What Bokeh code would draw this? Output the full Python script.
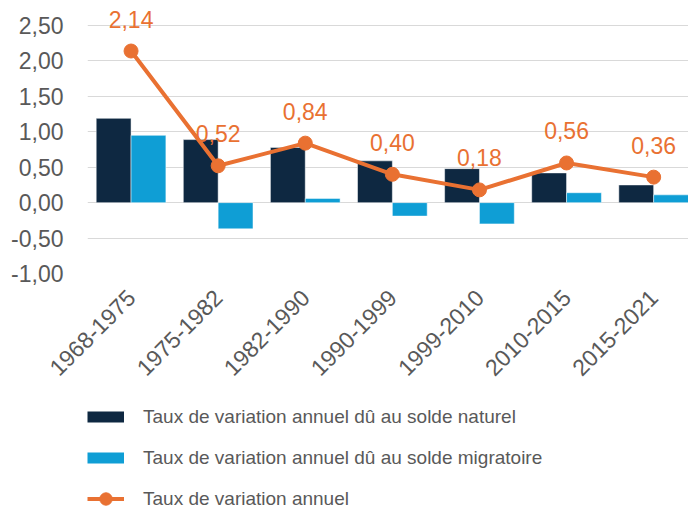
import math
from bokeh.plotting import figure
from bokeh.layouts import column
from bokeh.models import Range1d, FixedTicker, Legend, LegendItem, ColumnDataSource
from bokeh.embed import file_html
from bokeh.resources import INLINE
from bokeh.core.properties import value

periods = ["1968-1975", "1975-1982", "1982-1990", "1990-1999",
           "1999-2010", "2010-2015", "2015-2021"]
naturel = [1.19, 0.89, 0.78, 0.59, 0.48, 0.42, 0.25]
migratoire = [0.95, -0.37, 0.06, -0.19, -0.30, 0.14, 0.11]
annuel = [2.14, 0.52, 0.84, 0.40, 0.18, 0.56, 0.36]
y_ticks = [-1.0, -0.5, 0.0, 0.5, 1.0, 1.5, 2.0, 2.5]
series_names = ["Taux de variation annuel dû au solde naturel",
                "Taux de variation annuel dû au solde migratoire",
                "Taux de variation annuel"]

NAVY = "#0E2841"
BLUE = "#0F9ED5"
ORANGE = "#E97132"
GREY = "#595959"
GRID = "#D9D9D9"
FONT = "Liberation Sans"
NAN = float("nan")


def fr(v):
    return f"{v:.2f}".replace(".", ",")


idx = list(range(len(periods)))
bar_w = 0.4
src = ColumnDataSource(dict(
    xn=[i - bar_w / 2 for i in idx],
    xm=[i + bar_w / 2 for i in idx],
    x=idx,
    nat=naturel,
    mig=migratoire,
    ann=annuel,
    lab=[fr(v) for v in annuel],
))

# ---------------- main chart ----------------
p = figure(width=688, height=395, output_backend="svg", toolbar_location=None,
           x_range=Range1d(-0.5, 6.40), y_range=Range1d(-1.0, 2.712),
           min_border_left=87, min_border_right=0, min_border_top=10,
           min_border_bottom=122)
p.outline_line_color = None
p.background_fill_color = "white"

p.vbar(x="xn", top="nat", width=bar_w, source=src, fill_color=NAVY,
       line_color="white", line_width=0.5)
p.vbar(x="xm", top="mig", width=bar_w, source=src, fill_color=BLUE,
       line_color="white", line_width=0.5)
p.line("x", "ann", source=src, line_color=ORANGE, line_width=4)
p.scatter("x", "ann", source=src, size=14, fill_color=ORANGE, line_color=ORANGE)
p.text("x", "ann", text="lab", source=src, text_color=ORANGE,
       text_font=value(FONT), text_font_size="23px", text_align="center",
       text_baseline="alphabetic", y_offset=-32)

p.xaxis.ticker = FixedTicker(ticks=idx)
p.xaxis.major_label_overrides = {i: s for i, s in enumerate(periods)}
p.xaxis.major_label_orientation = math.pi / 4
p.xaxis.axis_line_color = None
p.xaxis.major_tick_line_color = None
p.xaxis.minor_tick_line_color = None
p.xaxis.major_label_text_font = FONT
p.xaxis.major_label_text_font_size = "23px"
p.xaxis.major_label_text_color = GREY
p.xaxis.major_label_standoff = 14

p.yaxis.ticker = FixedTicker(ticks=y_ticks)
p.yaxis.major_label_overrides = {t: fr(t) for t in y_ticks}
p.yaxis.axis_line_color = None
p.yaxis.major_tick_line_color = None
p.yaxis.minor_tick_line_color = None
p.yaxis.major_label_text_font = FONT
p.yaxis.major_label_text_font_size = "23px"
p.yaxis.major_label_text_color = GREY
p.yaxis.major_label_standoff = 18

p.xgrid.visible = False
p.ygrid.ticker = FixedTicker(ticks=y_ticks)
p.ygrid.grid_line_color = GRID
p.ygrid.grid_line_width = 1

# ---------------- legend strip ----------------
q = figure(width=688, height=119, output_backend="svg", toolbar_location=None,
           x_range=Range1d(0, 1), y_range=Range1d(0, 1),
           x_axis_location=None, y_axis_location=None,
           min_border_left=0, min_border_right=0, min_border_top=0,
           min_border_bottom=0)
q.outline_line_color = None
q.xgrid.visible = False
q.ygrid.visible = False

leg_nat = q.line(x=[NAN, NAN], y=[NAN, NAN], line_color=NAVY, line_width=11)
leg_mig = q.line(x=[NAN, NAN], y=[NAN, NAN], line_color=BLUE, line_width=11)
leg_ln = q.line(x=[NAN, NAN], y=[NAN, NAN], line_color=ORANGE, line_width=4)
leg_sc = q.scatter(x=[NAN], y=[NAN], size=14, fill_color=ORANGE, line_color=ORANGE)

legend = Legend(items=[
    LegendItem(label=series_names[0], renderers=[leg_nat]),
    LegendItem(label=series_names[1], renderers=[leg_mig]),
    LegendItem(label=series_names[2], renderers=[leg_ln, leg_sc]),
], location=(0, 0), orientation="vertical", glyph_width=37, glyph_height=31,
    spacing=10, padding=0, margin=0, label_standoff=19,
    label_text_font=FONT, label_text_font_size="19px", label_text_color=GREY,
    border_line_color=None, background_fill_alpha=0)
q.add_layout(legend, "center")

layout = column(p, q, spacing=0)
open("out.html", "w").write(file_html(layout, INLINE))
